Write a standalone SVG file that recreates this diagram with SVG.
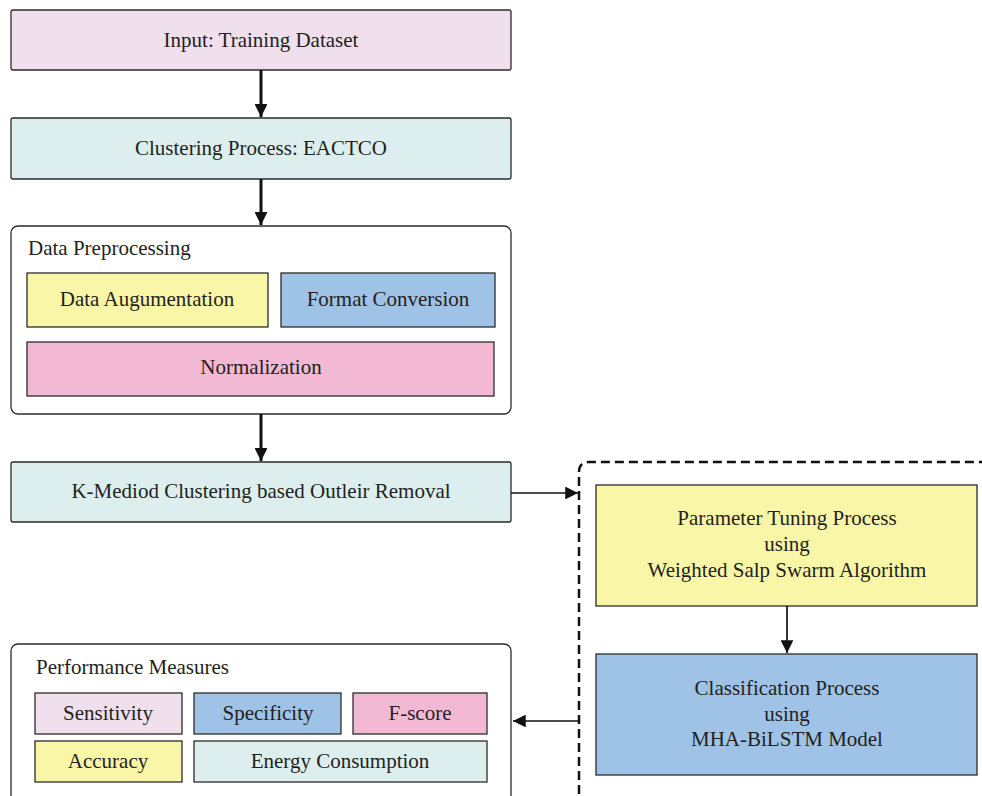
<svg xmlns="http://www.w3.org/2000/svg" width="982" height="796" viewBox="0 0 982 796">
  <style>
    .box { stroke: #2b2b2b; stroke-width: 1.3; }
    .frame { fill: #ffffff; stroke: #2b2b2b; stroke-width: 1.3; }
    .lbl { font-family: "Liberation Serif", "DejaVu Serif", serif; font-size: 21px; fill: #231f20; text-anchor: middle; }
    .ttl { font-family: "Liberation Serif", "DejaVu Serif", serif; font-size: 21px; fill: #231f20; }
    .edge { stroke: #111111; fill: none; }
    .pink { fill: #f0dfec; }
    .teal { fill: #dcefee; }
    .yellow { fill: #faf6a8; }
    .blue { fill: #9fc3e6; }
    .rose { fill: #f3b9d4; }
  </style>
  <defs>
    <marker id="arrow" viewBox="0 0 10 10" refX="10" refY="5" markerWidth="4.3" markerHeight="4.3" orient="auto" markerUnits="strokeWidth">
      <path d="M0,0 L10,5 L0,10 z" fill="#111111"/>
    </marker>
    <marker id="arrowThin" viewBox="0 0 10 10" refX="10" refY="5" markerWidth="7.5" markerHeight="7.5" orient="auto" markerUnits="strokeWidth">
      <path d="M0,0 L10,5 L0,10 z" fill="#111111"/>
    </marker>
  </defs>
  <rect width="982" height="796" fill="#ffffff"/>

  <g id="input">
    <rect class="box pink" x="11" y="10" width="500" height="60" rx="2"/>
    <text class="lbl" x="261" y="47">Input: Training Dataset</text>
  </g>

  <g id="clustering">
    <rect class="box teal" x="11" y="118" width="500" height="61" rx="2"/>
    <text class="lbl" x="261" y="155">Clustering Process: EACTCO</text>
  </g>

  <g id="preprocessing">
    <rect class="frame" x="11" y="226" width="500" height="188" rx="7"/>
    <text class="ttl" x="28" y="255">Data Preprocessing</text>
    <g id="augmentation">
      <rect class="box yellow" x="27" y="273" width="241" height="54"/>
      <text class="lbl" x="147" y="306">Data Augumentation</text>
    </g>
    <g id="format">
      <rect class="box blue" x="281" y="273" width="214" height="54"/>
      <text class="lbl" x="388" y="306">Format Conversion</text>
    </g>
    <g id="normalization">
      <rect class="box rose" x="27" y="342" width="467" height="54"/>
      <text class="lbl" x="261" y="374">Normalization</text>
    </g>
  </g>

  <g id="kmediod">
    <rect class="box teal" x="11" y="462" width="500" height="60" rx="2"/>
    <text class="lbl" x="261" y="498">K-Mediod Clustering based Outleir Removal</text>
  </g>

  <g id="optimization">
    <path d="M579,808 L579,472 Q579,462 589,462 L990,462" fill="none" stroke="#111111" stroke-width="2.5" stroke-dasharray="9,5"/>
    <g id="tuning">
      <rect class="box yellow" x="596" y="485" width="381" height="121"/>
      <text class="lbl" x="787" y="525">Parameter Tuning Process</text>
      <text class="lbl" x="787" y="551">using</text>
      <text class="lbl" x="787" y="577">Weighted Salp Swarm Algorithm</text>
    </g>
    <g id="classification">
      <rect class="box blue" x="596" y="654" width="381" height="121"/>
      <text class="lbl" x="787" y="695">Classification Process</text>
      <text class="lbl" x="787" y="721">using</text>
      <text class="lbl" x="787" y="746">MHA-BiLSTM Model</text>
    </g>
  </g>

  <g id="performance">
    <rect class="frame" x="11" y="644" width="500" height="160" rx="7"/>
    <text class="ttl" x="36" y="674">Performance Measures</text>
    <g id="sensitivity">
      <rect class="box pink" x="35" y="693" width="147" height="41"/>
      <text class="lbl" x="108" y="720">Sensitivity</text>
    </g>
    <g id="specificity">
      <rect class="box blue" x="194" y="693" width="147" height="41"/>
      <text class="lbl" x="268" y="720">Specificity</text>
    </g>
    <g id="fscore">
      <rect class="box rose" x="353" y="693" width="134" height="41"/>
      <text class="lbl" x="420" y="720">F-score</text>
    </g>
    <g id="accuracy">
      <rect class="box yellow" x="35" y="741" width="147" height="41"/>
      <text class="lbl" x="108" y="768">Accuracy</text>
    </g>
    <g id="energy">
      <rect class="box teal" x="194" y="741" width="293" height="41"/>
      <text class="lbl" x="340" y="768">Energy Consumption</text>
    </g>
  </g>

  <g id="connectors">
    <line class="edge" x1="261" y1="70" x2="261" y2="117" stroke-width="3" marker-end="url(#arrow)"/>
    <line class="edge" x1="261" y1="179" x2="261" y2="225" stroke-width="3" marker-end="url(#arrow)"/>
    <line class="edge" x1="261" y1="414" x2="261" y2="461" stroke-width="3" marker-end="url(#arrow)"/>
    <line class="edge" x1="511" y1="493" x2="578" y2="493" stroke-width="1.7" marker-end="url(#arrowThin)"/>
    <line class="edge" x1="787" y1="606" x2="787" y2="653" stroke-width="1.7" marker-end="url(#arrowThin)"/>
    <line class="edge" x1="579" y1="721" x2="513" y2="721" stroke-width="1.7" marker-end="url(#arrowThin)"/>
  </g>
</svg>
